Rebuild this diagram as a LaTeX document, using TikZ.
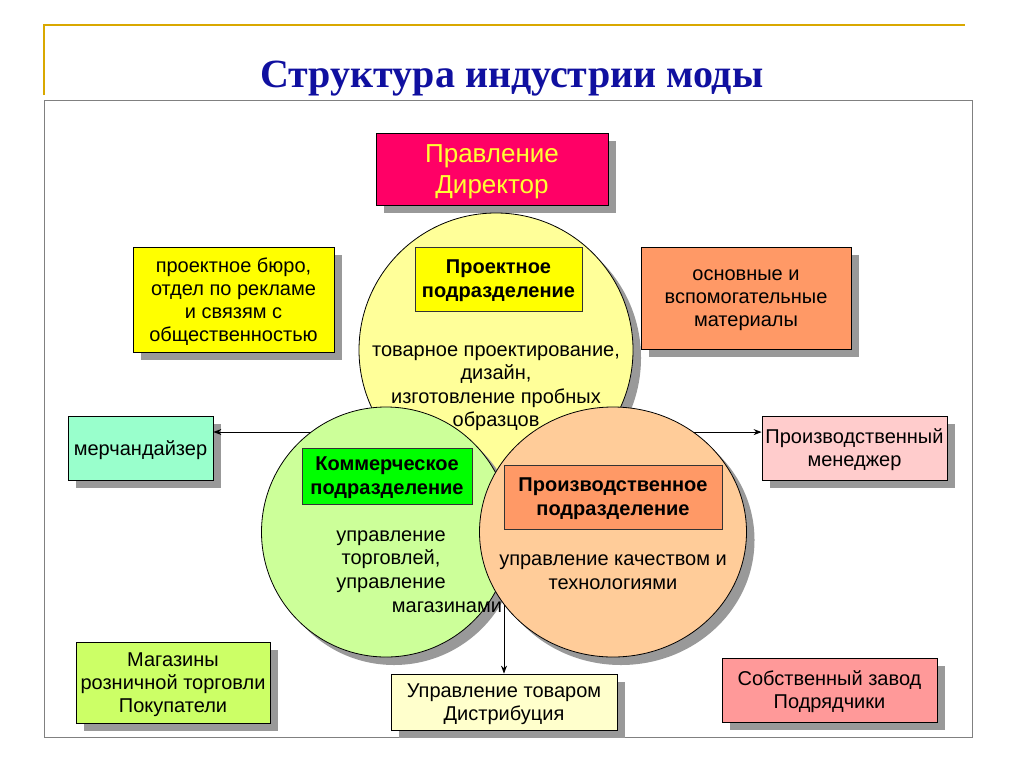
\documentclass[tikz,border=0pt]{standalone}
\usepackage{fontspec}
\setmainfont{Liberation Sans}
\newfontfamily\mytitlefont{Liberation Serif}
\usetikzlibrary{shapes.geometric,shadows,arrows.meta}
\definecolor{goldline}{HTML}{D9A800}
\definecolor{titleblue}{RGB}{16,16,160}
\definecolor{framegray}{HTML}{808080}
\definecolor{shadowgray}{HTML}{999999}
\definecolor{dirred}{HTML}{FF0066}
\definecolor{diryellow}{HTML}{FFFF33}
\definecolor{circyellow}{HTML}{FFFF99}
\definecolor{circgreen}{HTML}{CCFF99}
\definecolor{circorange}{HTML}{FFCC99}
\definecolor{boxyellow}{HTML}{FFFF00}
\definecolor{boxgreen}{HTML}{00FF00}
\definecolor{boxorange}{HTML}{FF9966}
\definecolor{boxaqua}{HTML}{99FFCC}
\definecolor{boxpink}{HTML}{FFCCCC}
\definecolor{boxlime}{HTML}{CCFF66}
\definecolor{boxsalmon}{HTML}{FF9999}
\definecolor{boxcream}{HTML}{FFFFCC}
\begin{document}
\begin{tikzpicture}[x=1pt,y=-1pt,
  shad/.style={drop shadow={shadow xshift=8pt,shadow yshift=-8pt,opacity=1,fill=shadowgray}},
  box/.style={draw=black,line width=0.8pt,inner sep=0pt,align=center,shad,text depth=0pt,
    font={\fontsize{20}{23}\selectfont}},
  lab/.style={draw=black!80,line width=0.8pt,inner sep=0pt,align=center,text depth=0pt,
    font={\fontsize{20}{24}\selectfont\bfseries}},
  circ/.style={ellipse,draw=black,line width=0.8pt,inner sep=0pt,shad},
  body/.style={align=center,inner sep=0pt,font={\fontsize{20}{23.5}\selectfont}},
  arr/.style={-{Stealth[length=8pt,width=6pt]},line width=0.9pt}
]
\useasboundingbox (0,0) rectangle (1024,768);
\fill[white] (0,0) rectangle (1024,768);

% header
\draw[goldline,line width=2pt] (44,95) -- (44,25) -- (965,25);
\node[anchor=base,inner sep=0pt,text=titleblue,font={\mytitlefont\fontsize{40}{48}\selectfont\bfseries}]
  (title) at (512,87) {Структура индустрии моды};
\draw[framegray,line width=1pt] (44,100) rectangle (972,737);

% director
\node[box,fill=dirred,text=diryellow,minimum width=232pt,minimum height=72pt,
  font={\fontsize{26}{31}\selectfont}] (dir) at (492,169) {Правление\\Директор};

% circles
\node[circ,fill=circyellow,minimum width=274pt,minimum height=274pt] (ycirc) at (496,350) {};
\node[lab,fill=boxyellow,minimum width=167pt,minimum height=64pt] (plab) at (498.5,279)
  {Проектное\\подразделение};
\node[body] (ytext) at (496,388) {товарное проектирование,\\дизайн,\\изготовление пробных\\образцов};

\node[circ,fill=circgreen,minimum width=249pt,minimum height=250pt] (gcirc) at (386,532) {};
\node[lab,fill=boxgreen,minimum width=170pt,minimum height=56pt] (clab) at (387,476)
  {Коммерческое\\подразделение};
\node[body] (gtext) at (391,561.5) {управление\\торговлей,\\управление};
\node[body] (gtext2) at (447,607) {магазинами};

\node[circ,fill=circorange,minimum width=267pt,minimum height=250pt] (ocirc) at (613,532) {};
\node[lab,fill=boxorange,minimum width=218pt,minimum height=64pt] (olab) at (613,497)
  {Производственное\\подразделение};
\node[body] (otext) at (613,572) {управление качеством и\\технологиями};

% outer boxes
\node[box,fill=boxyellow,minimum width=201pt,minimum height=105pt] (bureau) at (233.5,299.5)
  {проектное бюро,\\отдел по рекламе\\и связям с\\общественностью};
\node[box,fill=boxaqua,minimum width=145pt,minimum height=64pt] (merch) at (140.5,448)
  {мерчандайзер};
\node[box,fill=boxorange,minimum width=210pt,minimum height=102pt] (mat) at (746,298)
  {основные и\\вспомогательные\\материалы};
\node[box,fill=boxpink,minimum width=185pt,minimum height=64pt] (pm) at (854.5,448)
  {Производственный\\менеджер};
\node[box,fill=boxlime,minimum width=194pt,minimum height=81pt] (shops) at (173,682.5)
  {Магазины\\розничной торговли\\Покупатели};
\node[box,fill=boxsalmon,minimum width=215pt,minimum height=64pt] (plant) at (829.5,690)
  {Собственный завод\\Подрядчики};
\node[box,fill=boxcream,minimum width=226pt,minimum height=56pt] (dist) at (504,702)
  {Управление товаром\\Дистрибуция};

% connectors
\draw[arr] (gcirc.127) -- (gcirc.127 -| merch.east);
\draw[arr] (ocirc.51) -- (ocirc.51 -| pm.west);
\coordinate (dstart) at (504,605);
\draw[arr] (dstart) -- (dist.north);
\end{tikzpicture}
\end{document}
